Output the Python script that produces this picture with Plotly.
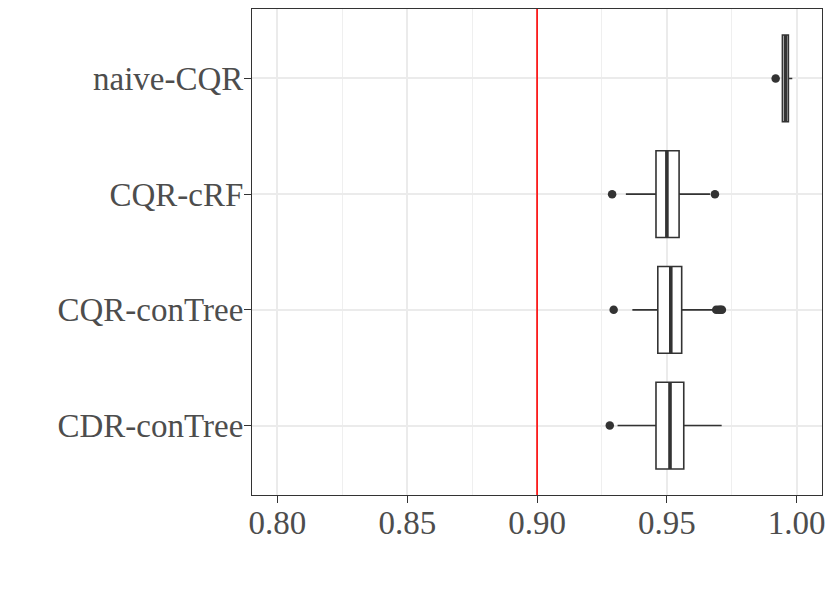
import plotly.graph_objects as go

methods = ["naive-CQR", "CQR-cRF", "CQR-conTree", "CDR-conTree"]
q1 = [0.9945, 0.9458, 0.9465, 0.9458]
median = [0.9957, 0.9500, 0.9515, 0.9512]
q3 = [0.9968, 0.9547, 0.9557, 0.9565]
lowerfence = [0.9945, 0.9342, 0.9367, 0.9310]
upperfence = [0.9983, 0.9666, 0.9678, 0.9711]
outliers = [[0.9919], [0.9289, 0.9685], [0.9295, 0.9690, 0.9700, 0.9706, 0.9712], [0.9280]]
target = 0.90
xticks = [0.80, 0.85, 0.90, 0.95, 1.00]
xrange_ = [0.79018, 1.00975]

dark = "#333333"
fig = go.Figure()
n = len(methods)
pos = [n - i for i in range(n)]
half = 0.375

for i, m in enumerate(methods):
    fig.add_trace(go.Box(
        y=[pos[i]], q1=[q1[i]], median=[median[i]], q3=[q3[i]],
        lowerfence=[lowerfence[i]], upperfence=[upperfence[i]],
        orientation="h", width=2 * half, whiskerwidth=0,
        fillcolor="white", line=dict(color=dark, width=1.6),
        boxpoints=False, showlegend=False, hoverinfo="skip",
    ))
    fig.add_trace(go.Scatter(
        x=[median[i], median[i]], y=[pos[i] - half, pos[i] + half],
        mode="lines", line=dict(color=dark, width=3.6),
        showlegend=False, hoverinfo="skip",
    ))
    fig.add_trace(go.Scatter(
        x=outliers[i], y=[pos[i]] * len(outliers[i]),
        mode="markers", marker=dict(color=dark, size=8.5),
        showlegend=False, hoverinfo="skip",
    ))

fig.add_shape(type="line", xref="x", yref="paper", x0=target, x1=target,
              y0=0, y1=1, line=dict(color="red", width=1.6), layer="above")

fig.update_layout(
    width=830, height=593,
    margin=dict(l=252, r=8, t=9, b=98, autoexpand=False),
    paper_bgcolor="white", plot_bgcolor="white",
    font=dict(family="Liberation Serif", size=33, color="#4D4D4D"),
)
fig.update_xaxes(
    range=xrange_, tickvals=xticks, ticktext=[f"{v:.2f}" for v in xticks],
    showgrid=True, gridcolor="#EBEBEB", gridwidth=1.6,
    minor=dict(dtick=0.025, tick0=0.775, showgrid=True, gridcolor="#EFEFEF", gridwidth=1.0, ticks=""),
    showline=True, linecolor=dark, linewidth=1.2, mirror=True,
    ticks="outside", ticklen=7, tickwidth=1.4, tickcolor=dark,
    zeroline=False, tickfont=dict(size=33, color="#4D4D4D"), automargin=False,
    ticklabelstandoff=-9,
)
fig.update_yaxes(
    range=[0.4, n + 0.6], tickvals=pos, ticktext=methods,
    showgrid=True, gridcolor="#EBEBEB", gridwidth=1.6,
    showline=True, linecolor=dark, linewidth=1.2, mirror=True,
    ticks="outside", ticklen=7, tickwidth=1.4, tickcolor=dark,
    zeroline=False, tickfont=dict(size=33, color="#4D4D4D"), automargin=False,
    ticklabelstandoff=-6,
)
fig.write_html("out.html", config={"displayModeBar": False},
               post_script="document.body.style.margin='0';document.body.style.overflow='hidden';")
